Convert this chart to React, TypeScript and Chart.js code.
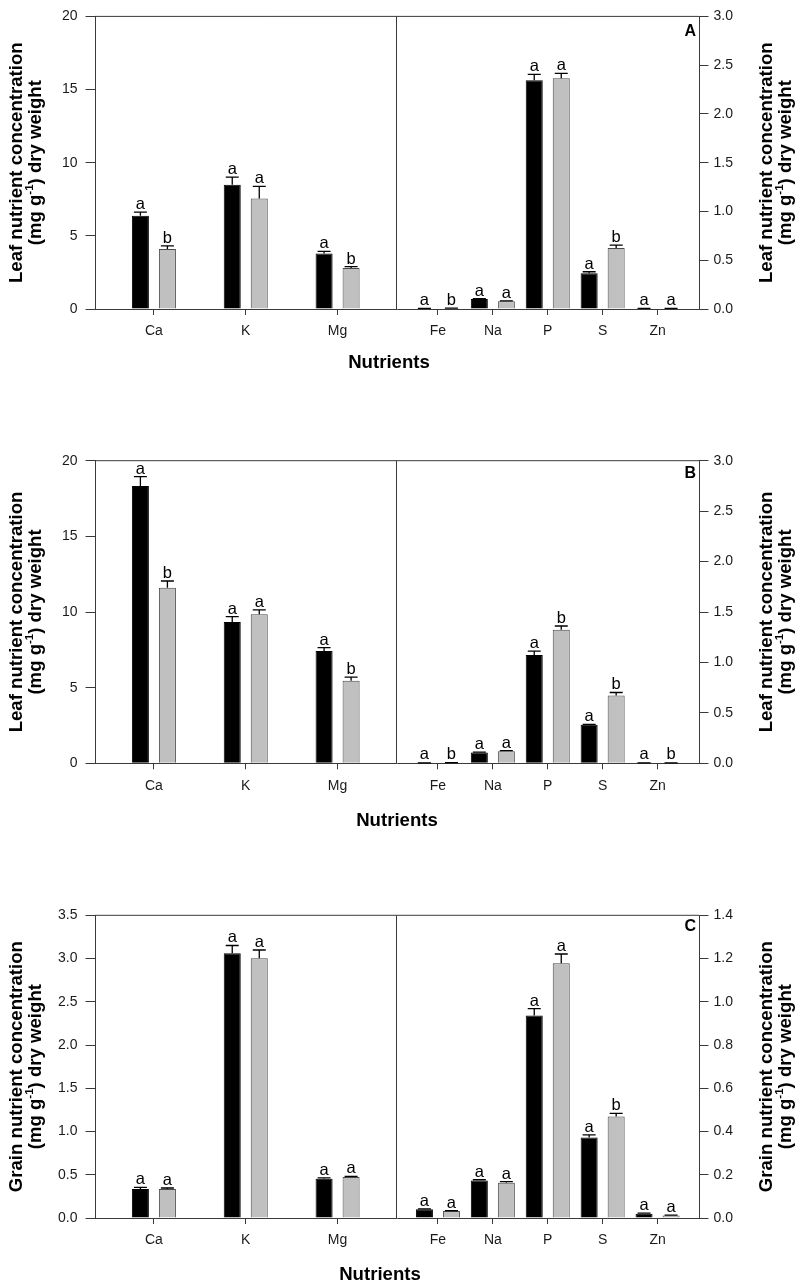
import React, { useEffect, useRef } from "react";
import { Chart, registerables } from "chart.js";

Chart.register(...registerables);

// ---------- categories ----------
const LEFT_NUTRIENTS = ["Ca", "K", "Mg"];
const RIGHT_NUTRIENTS = ["Fe", "Na", "P", "S", "Zn"];

// ---------- axis tick labels ----------
const LEAF_LEFT_TICKS = [0, 5, 10, 15, 20];
const LEAF_RIGHT_TICKS = [0, 0.5, 1.0, 1.5, 2.0, 2.5, 3.0];
const GRAIN_LEFT_TICKS = [0, 0.5, 1.0, 1.5, 2.0, 2.5, 3.0, 3.5];
const GRAIN_RIGHT_TICKS = [0, 0.2, 0.4, 0.6, 0.8, 1.0, 1.2, 1.4];

// ---------- Panel A (leaf) ----------
const A_LEFT_BLACK = [6.37, 8.49, 3.79];
const A_LEFT_BLACK_ERR = [0.25, 0.53, 0.15];
const A_LEFT_BLACK_SIG = ["a", "a", "a"];
const A_LEFT_GRAY = [4.1, 7.56, 2.8];
const A_LEFT_GRAY_ERR = [0.22, 0.82, 0.09];
const A_LEFT_GRAY_SIG = ["b", "a", "b"];
const A_RIGHT_BLACK = [0.005, 0.103, 2.345, 0.367, 0.005];
const A_RIGHT_BLACK_ERR = [0.002, 0.004, 0.06, 0.015, 0.001];
const A_RIGHT_BLACK_SIG = ["a", "a", "a", "a", "a"];
const A_RIGHT_GRAY = [0.007, 0.079, 2.365, 0.625, 0.005];
const A_RIGHT_GRAY_ERR = [0.002, 0.004, 0.05, 0.03, 0.001];
const A_RIGHT_GRAY_SIG = ["b", "a", "a", "b", "a"];

// ---------- Panel B (leaf) ----------
const B_LEFT_BLACK = [18.33, 9.34, 7.42];
const B_LEFT_BLACK_ERR = [0.62, 0.35, 0.22];
const B_LEFT_BLACK_SIG = ["a", "a", "a"];
const B_LEFT_GRAY = [11.61, 9.85, 5.46];
const B_LEFT_GRAY_ERR = [0.44, 0.29, 0.24];
const B_LEFT_GRAY_SIG = ["b", "a", "b"];
const B_RIGHT_BLACK = [0.004, 0.106, 1.073, 0.381, 0.004];
const B_RIGHT_BLACK_ERR = [0.001, 0.004, 0.04, 0.005, 0.001];
const B_RIGHT_BLACK_SIG = ["a", "a", "a", "a", "a"];
const B_RIGHT_GRAY = [0.005, 0.119, 1.325, 0.672, 0.004];
const B_RIGHT_GRAY_ERR = [0.001, 0.007, 0.036, 0.03, 0.001];
const B_RIGHT_GRAY_SIG = ["b", "a", "b", "b", "b"];

// ---------- Panel C (grain) ----------
const C_LEFT_BLACK = [0.335, 3.061, 0.455];
const C_LEFT_BLACK_ERR = [0.02, 0.09, 0.008];
const C_LEFT_BLACK_SIG = ["a", "a", "a"];
const C_LEFT_GRAY = [0.335, 3.003, 0.474];
const C_LEFT_GRAY_ERR = [0.012, 0.096, 0.008];
const C_LEFT_GRAY_SIG = ["a", "a", "a"];
const C_RIGHT_BLACK = [0.04, 0.173, 0.937, 0.372, 0.02];
const C_RIGHT_BLACK_ERR = [0.002, 0.004, 0.031, 0.012, 0.003];
const C_RIGHT_BLACK_SIG = ["a", "a", "a", "a", "a"];
const C_RIGHT_GRAY = [0.032, 0.163, 1.178, 0.469, 0.011];
const C_RIGHT_GRAY_ERR = [0.002, 0.005, 0.043, 0.015, 0.002];
const C_RIGHT_GRAY_SIG = ["a", "a", "a", "b", "a"];

// ---------- layout (positions along the shared x axis, in axis units) ----------
const LEFT_PAD = 59;
const LEFT_STEP = 92;
const RIGHT_PAD = 41.5;
const RIGHT_STEP = 55;
const SPLIT = 2 * LEFT_PAD + (LEFT_NUTRIENTS.length - 1) * LEFT_STEP;
const X_TOTAL = SPLIT + 2 * RIGHT_PAD + (RIGHT_NUTRIENTS.length - 1) * RIGHT_STEP;
const leftPos = (i: number) => LEFT_PAD + i * LEFT_STEP;
const rightPos = (i: number) => SPLIT + RIGHT_PAD + i * RIGHT_STEP;
const ALL_POS = [...LEFT_NUTRIENTS.map((_, i) => leftPos(i)), ...RIGHT_NUTRIENTS.map((_, i) => rightPos(i))];
const ALL_NAMES = [...LEFT_NUTRIENTS, ...RIGHT_NUTRIENTS];

const W = 795;
const FONT = "'Liberation Sans', Arial, Helvetica, sans-serif";
const AXIS_COLOR = "#3a3a3a";
const TEXT_COLOR = "#1a1a1a";

type Panel = {
  id: string;
  kind: string;
  canvasTop: number;
  canvasH: number;
  plotTop: number;
  plotBottom: number;
  titleDy: number;
  titleDx: number;
  letterDy: number;
  leftTicks: number[];
  rightTicks: number[];
  leftDec: number;
  rightDec: number;
  lb: number[]; lbe: number[]; lbs: string[];
  lg: number[]; lge: number[]; lgs: string[];
  rb: number[]; rbe: number[]; rbs: string[];
  rg: number[]; rge: number[]; rgs: string[];
};

const PANELS: Panel[] = [
  {
    id: "A", kind: "Leaf", canvasTop: 0, canvasH: 425, plotTop: 6.5, plotBottom: 309,
    titleDy: 54, titleDx: -8, letterDy: 15,
    leftTicks: LEAF_LEFT_TICKS, rightTicks: LEAF_RIGHT_TICKS, leftDec: 0, rightDec: 1,
    lb: A_LEFT_BLACK, lbe: A_LEFT_BLACK_ERR, lbs: A_LEFT_BLACK_SIG,
    lg: A_LEFT_GRAY, lge: A_LEFT_GRAY_ERR, lgs: A_LEFT_GRAY_SIG,
    rb: A_RIGHT_BLACK, rbe: A_RIGHT_BLACK_ERR, rbs: A_RIGHT_BLACK_SIG,
    rg: A_RIGHT_GRAY, rge: A_RIGHT_GRAY_ERR, rgs: A_RIGHT_GRAY_SIG,
  },
  {
    id: "B", kind: "Leaf", canvasTop: 425, canvasH: 430, plotTop: 35.7, plotBottom: 338.3,
    titleDy: 57.5, titleDx: 0, letterDy: 13,
    leftTicks: LEAF_LEFT_TICKS, rightTicks: LEAF_RIGHT_TICKS, leftDec: 0, rightDec: 1,
    lb: B_LEFT_BLACK, lbe: B_LEFT_BLACK_ERR, lbs: B_LEFT_BLACK_SIG,
    lg: B_LEFT_GRAY, lge: B_LEFT_GRAY_ERR, lgs: B_LEFT_GRAY_SIG,
    rb: B_RIGHT_BLACK, rbe: B_RIGHT_BLACK_ERR, rbs: B_RIGHT_BLACK_SIG,
    rg: B_RIGHT_GRAY, rge: B_RIGHT_GRAY_ERR, rgs: B_RIGHT_GRAY_SIG,
  },
  {
    id: "C", kind: "Grain", canvasTop: 855, canvasH: 431, plotTop: 60.3, plotBottom: 363,
    titleDy: 57, titleDx: -17, letterDy: 11,
    leftTicks: GRAIN_LEFT_TICKS, rightTicks: GRAIN_RIGHT_TICKS, leftDec: 1, rightDec: 1,
    lb: C_LEFT_BLACK, lbe: C_LEFT_BLACK_ERR, lbs: C_LEFT_BLACK_SIG,
    lg: C_LEFT_GRAY, lge: C_LEFT_GRAY_ERR, lgs: C_LEFT_GRAY_SIG,
    rb: C_RIGHT_BLACK, rbe: C_RIGHT_BLACK_ERR, rbs: C_RIGHT_BLACK_SIG,
    rg: C_RIGHT_GRAY, rge: C_RIGHT_GRAY_ERR, rgs: C_RIGHT_GRAY_SIG,
  },
];

function drawRotatedTitle(ctx: CanvasRenderingContext2D, x: number, yc: number, segs: { t: string; sup?: boolean }[]) {
  const base = `bold 18.6px ${FONT}`;
  const sup = `bold 11.5px ${FONT}`;
  ctx.save();
  ctx.translate(x, yc);
  ctx.rotate(-Math.PI / 2);
  ctx.fillStyle = "#000";
  ctx.textAlign = "left";
  ctx.textBaseline = "alphabetic";
  let total = 0;
  for (const s of segs) {
    ctx.font = s.sup ? sup : base;
    total += ctx.measureText(s.t).width;
  }
  let cx = -total / 2;
  for (const s of segs) {
    ctx.font = s.sup ? sup : base;
    ctx.fillText(s.t, cx, s.sup ? -7.5 : 0);
    cx += ctx.measureText(s.t).width;
  }
  ctx.restore();
}

const panelDecor = {
  id: "panelDecor",
  afterDatasetsDraw(chart: any) {
    const ctx: CanvasRenderingContext2D = chart.ctx;
    const area = chart.chartArea;
    // error bars + significance letters
    chart.data.datasets.forEach((ds: any, di: number) => {
      const meta = chart.getDatasetMeta(di);
      const yScale = chart.scales[ds.yAxisID];
      meta.data.forEach((bar: any, i: number) => {
        const v = ds.data[i].y;
        const e = ds.errors[i];
        const yTop = yScale.getPixelForValue(v);
        const yErr = yScale.getPixelForValue(v + e);
        ctx.save();
        ctx.strokeStyle = "#000";
        ctx.lineWidth = 1.3;
        ctx.beginPath();
        ctx.moveTo(bar.x, yTop);
        ctx.lineTo(bar.x, yErr);
        ctx.moveTo(bar.x - 6.5, yErr);
        ctx.lineTo(bar.x + 6.5, yErr);
        ctx.stroke();
        ctx.fillStyle = "#000";
        ctx.font = `16.5px ${FONT}`;
        ctx.textAlign = "center";
        ctx.textBaseline = "alphabetic";
        ctx.fillText(ds.sig[i], bar.x, Math.min(yErr, area.bottom - 1) - 3);
        ctx.restore();
      });
    });
    // frame: top line and divider
    const xs = chart.scales.x;
    const split = xs.getPixelForValue(SPLIT);
    ctx.save();
    ctx.strokeStyle = AXIS_COLOR;
    ctx.lineWidth = 1;
    ctx.beginPath();
    ctx.moveTo(area.left, area.top);
    ctx.lineTo(area.right, area.top);
    ctx.moveTo(split, area.top);
    ctx.lineTo(split, area.bottom);
    ctx.stroke();
    ctx.restore();
  },
  afterDraw(chart: any) {
    const ctx: CanvasRenderingContext2D = chart.ctx;
    const p: Panel = chart.options.plugins.panelDecor.panel;
    const area = chart.chartArea;
    const yc = (area.top + area.bottom) / 2;
    const line1 = [{ t: `${p.kind} nutrient concentration` }];
    const line2 = [{ t: "(mg g" }, { t: "-1", sup: true }, { t: ") dry weight" }];
    drawRotatedTitle(ctx, 21.7, yc, line1);
    drawRotatedTitle(ctx, 40.7, yc, line2);
    drawRotatedTitle(ctx, 771.7, yc, line1);
    drawRotatedTitle(ctx, 790.7, yc, line2);
    // x axis title
    ctx.save();
    ctx.fillStyle = "#000";
    ctx.font = `bold 18.6px ${FONT}`;
    ctx.textAlign = "center";
    ctx.textBaseline = "middle";
    ctx.fillText("Nutrients", (area.left + area.right) / 2 + p.titleDx, area.bottom + p.titleDy);
    // panel letter
    ctx.font = `bold 16px ${FONT}`;
    ctx.textAlign = "right";
    ctx.fillText(p.id, area.right - 3, area.top + p.letterDy);
    ctx.restore();
  },
};

function buildConfig(p: Panel): any {
  const mk = (names: string[], pos: (i: number) => number, vals: number[]) =>
    names.map((_, i) => ({ x: pos(i), y: vals[i] }));
  const blackStyle = { backgroundColor: "#000", borderColor: "#000", borderWidth: 1 };
  const grayStyle = { backgroundColor: "#c0c0c0", borderColor: "#4a4a4a", borderWidth: 1 };
  const datasets = [
    { ...blackStyle, stack: "black", yAxisID: "yL", data: mk(LEFT_NUTRIENTS, leftPos, p.lb), errors: p.lbe, sig: p.lbs },
    { ...grayStyle, stack: "gray", yAxisID: "yL", data: mk(LEFT_NUTRIENTS, leftPos, p.lg), errors: p.lge, sig: p.lgs },
    { ...blackStyle, stack: "black", yAxisID: "yR", data: mk(RIGHT_NUTRIENTS, rightPos, p.rb), errors: p.rbe, sig: p.rbs },
    { ...grayStyle, stack: "gray", yAxisID: "yR", data: mk(RIGHT_NUTRIENTS, rightPos, p.rg), errors: p.rge, sig: p.rgs },
  ];
  const tickFont = { family: FONT, size: 14 };
  const yAxis = (position: string, ticks: number[], dec: number, width: number, pad: number) => ({
    type: "linear",
    position,
    min: 0,
    max: ticks[ticks.length - 1],
    stacked: false,
    afterBuildTicks: (s: any) => {
      s.ticks = ticks.map((v) => ({ value: v }));
    },
    afterFit: (s: any) => {
      s.width = width;
    },
    ticks: {
      font: tickFont,
      color: TEXT_COLOR,
      padding: pad,
      callback: (v: any) => Number(v).toFixed(dec),
    },
    grid: { drawOnChartArea: false, offset: false, tickLength: 9.5, color: AXIS_COLOR, lineWidth: 1 },
    border: { display: true, color: AXIS_COLOR, width: 1 },
  });
  return {
    type: "bar",
    data: { datasets },
    options: {
      animation: false,
      responsive: false,
      devicePixelRatio: 1,
      layout: { padding: { top: p.plotTop, left: 0, right: 0, bottom: 0 } },
      datasets: { bar: { categoryPercentage: 0.984, barPercentage: 0.63 } },
      plugins: {
        legend: { display: false },
        tooltip: { enabled: false },
        title: { display: false },
        panelDecor: { panel: p },
      },
      scales: {
        x: {
          type: "linear",
          min: 0,
          max: X_TOTAL,
          offset: false,
          afterBuildTicks: (s: any) => {
            s.ticks = ALL_POS.map((v) => ({ value: v }));
          },
          afterFit: (s: any) => {
            s.height = p.canvasH - p.plotBottom;
          },
          ticks: {
            autoSkip: false,
            maxRotation: 0,
            font: tickFont,
            color: TEXT_COLOR,
            padding: 8,
            callback: (v: any) => {
              const idx = ALL_POS.findIndex((q) => Math.abs(q - Number(v)) < 1e-6);
              return idx >= 0 ? ALL_NAMES[idx] : "";
            },
          },
          grid: { drawOnChartArea: false, offset: false, tickLength: 6, color: AXIS_COLOR, lineWidth: 1 },
          border: { display: true, color: AXIS_COLOR, width: 1 },
        },
        yL: yAxis("left", p.leftTicks, p.leftDec, 95, 8),
        yR: yAxis("right", p.rightTicks, p.rightDec, 96, 5),
      },
    },
    plugins: [panelDecor],
  };
}

function PanelChart({ panel }: { panel: Panel }) {
  const ref = useRef<HTMLCanvasElement>(null);
  useEffect(() => {
    const chart = new Chart(ref.current as HTMLCanvasElement, buildConfig(panel));
    return () => chart.destroy();
  }, [panel]);
  return (
    <canvas
      ref={ref}
      width={W}
      height={panel.canvasH}
      style={{ position: "absolute", left: 0, top: panel.canvasTop, width: W, height: panel.canvasH, display: "block" }}
    />
  );
}

export default function App() {
  return (
    <div style={{ position: "absolute", left: 0, top: 0, width: W, height: 1286, overflow: "hidden", background: "#fff" }}>
      {PANELS.map((p) => (
        <PanelChart key={p.id} panel={p} />
      ))}
    </div>
  );
}
